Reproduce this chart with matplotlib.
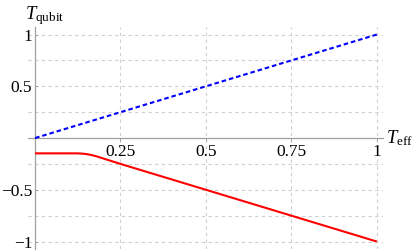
import matplotlib
matplotlib.use("Agg")
import matplotlib.pyplot as plt

# Data
blue_x = [0.0, 1.0]
blue_y = [0.0, 1.0]
red_x = [0.0, 0.05, 0.10, 0.12, 0.13, 0.14, 0.15, 0.16, 0.17, 0.18, 0.19, 0.20, 0.25, 0.5, 0.75, 1.0]
red_y = [-0.148, -0.148, -0.148, -0.148, -0.149, -0.151, -0.155, -0.161, -0.168, -0.177, -0.187, -0.198, -0.25, -0.5, -0.75, -1.0]
xticks = [0.25, 0.5, 0.75, 1.0]
xticklabels = ["0.25", "0.5", "0.75", "1"]
yticks = [-1.0, -0.5, 0.5, 1.0]
yticklabels = ["\u22121", "\u22120.5", "0.5", "1"]
grid_x = [0.25, 0.5, 0.75, 1.0]
grid_y = [-1.0, -0.75, -0.5, -0.25, 0.25, 0.5, 0.75, 1.0]

plt.rcParams['font.family'] = ['Liberation Serif', 'DejaVu Serif']
plt.rcParams['mathtext.fontset'] = 'custom'
plt.rcParams['mathtext.rm'] = 'Liberation Serif'
plt.rcParams['mathtext.it'] = 'Liberation Serif:italic'

fig = plt.figure(figsize=(4.15, 2.52), dpi=100)
ax = fig.add_axes([0.068, 0.0107, 0.854, 0.881])
ax.set_xlim(-0.02, 1.017)
ax.set_ylim(-1.075, 1.07)

gridcol = '#d0d0d0'
for gx in grid_x:
    ax.axvline(gx, color=gridcol, lw=0.8, ls=(0, (3, 3)), zorder=0)
for gy in grid_y:
    ax.axhline(gy, color=gridcol, lw=0.8, ls=(0, (3, 3)), zorder=0)

ax.plot(red_x, red_y, color='#ff0000', lw=1.5, zorder=3, solid_capstyle='butt')
ax.plot(blue_x, blue_y, color='#0000ff', lw=1.5, ls=(0, (2.2, 1.4)), zorder=3)

for s in ['top', 'right']:
    ax.spines[s].set_visible(False)
ax.spines['left'].set_position(('data', 0))
ax.spines['bottom'].set_position(('data', 0))
for s in ['left', 'bottom']:
    ax.spines[s].set_color('#a0a0a0')
    ax.spines[s].set_linewidth(0.9)

ax.set_xticks(xticks)
ax.set_xticklabels(xticklabels)
ax.set_yticks(yticks)
ax.set_yticklabels(yticklabels)
ax.tick_params(axis='both', length=2.5, width=0.7, color='#a0a0a0', labelsize=12.5, pad=2)
ax.tick_params(axis='x', direction='out')
ax.tick_params(axis='y', direction='in')

ax.text(-0.03, 1.185, r'$T_{\mathrm{qubit}}$', fontsize=13.5, ha='left', va='center',
        transform=ax.transData, clip_on=False)
ax.text(1.028, 0.0, r'$T_{\mathrm{eff}}$', fontsize=13.5, ha='left', va='center',
        transform=ax.transData, clip_on=False)

fig.savefig('out.png', dpi=100)
